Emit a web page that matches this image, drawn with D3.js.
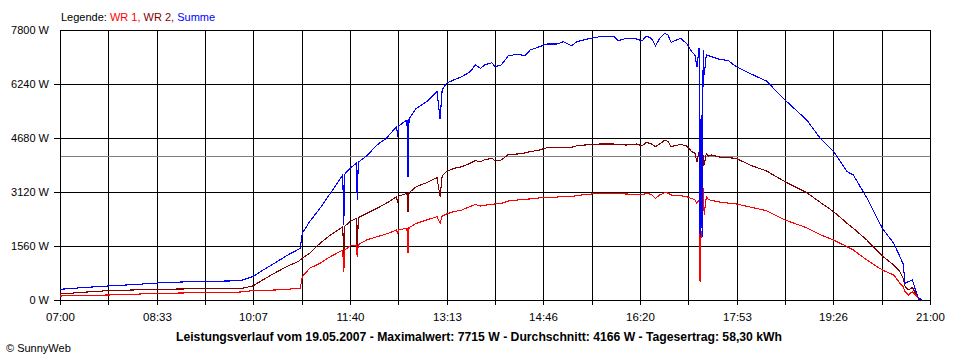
<!DOCTYPE html>
<html>
<head>
<meta charset="utf-8">
<script src="https://cdn.jsdelivr.net/npm/d3@7/dist/d3.min.js"></script>
<style>
  html, body { margin: 0; padding: 0; background: #fff; }
  svg { display: block; font-family: "Liberation Sans", Arial, sans-serif; }
</style>
</head>
<body>
<svg id="chart" width="960" height="360"></svg>
<script>
// ---- Data ----
const times = ["07:00","07:23","07:46","08:10","08:34","08:57","09:20","09:43","09:54","10:06",
  "10:18","10:28","10:40","10:50","10:52","10:54","11:01","11:11","11:21","11:33",
  "11:34","11:35","11:40","11:46","11:47","11:48","11:56","12:06","12:15","12:25",
  "12:26","12:27","12:35","12:36","12:37","12:44","12:54","13:04","13:07","13:09",
  "13:13","13:20","13:28","13:36","13:41","13:46","13:50","13:57","14:00","14:06",
  "14:13","14:22","14:29","14:34","14:43","14:50","15:00","15:06","15:14","15:19",
  "15:28","15:41","15:55","15:59","16:07","16:17","16:22","16:26","16:31","16:35",
  "16:39","16:44","16:47","16:50","16:59","17:05","17:10","17:13","17:15","17:17",
  "17:18","17:19","17:20","17:21","17:22","17:24","17:26","17:29","17:37","17:45",
  "17:53","18:06","18:22","18:40","19:01","19:14","19:27","19:40","19:46","19:59",
  "20:14","20:25","20:31","20:34","20:36","20:39","20:43","20:46","20:49","20:52"];

const wr1 = [116,130,144,164,193,202,212,220,231,269,
  280,289,309,338,338,673,916,1060,1251,1444,
  818,1450,1560,1590,1250,1600,1733,1829,1906,2022,
  1906,2030,2070,1348,2090,2215,2311,2407,2215,2430,
  2480,2550,2600,2700,2760,2716,2740,2760,2775,2790,
  2860,2890,2909,2920,2950,2957,2975,2985,2990,3014,
  3050,3081,3081,3070,3062,3050,3033,3081,3050,2937,
  3033,3100,3090,3033,3014,2985,2930,2889,2793,2890,
  530,2000,1900,3227,2455,2985,2900,2880,2830,2800,
  2773,2687,2580,2311,2086,1890,1733,1540,1444,1156,
  867,722,482,385,241,144,241,144,48,0];

const wr2 = [173,225,269,289,309,318,327,327,327,404,
  620,790,982,1112,1156,1213,1349,1638,1878,2118,
  1300,2130,2263,2360,1300,2380,2503,2648,2793,2985,
  2793,3000,3081,2551,3100,3274,3390,3534,2985,3580,
  3707,3800,3852,3950,4024,3996,4050,4093,4024,4044,
  4208,4218,4250,4285,4333,4400,4410,4410,4410,4458,
  4480,4506,4506,4490,4477,4506,4450,4555,4510,4430,
  4506,4622,4580,4430,4496,4450,4285,4240,3995,4285,
  1011,3000,2600,4200,3900,4237,4160,4190,4130,4110,
  4093,3900,3730,3418,3101,2822,2551,2215,2070,1733,
  1271,1011,818,626,385,289,366,193,29,0];

const summe = [309,360,404,443,491,520,540,549,558,674,
  900,1080,1300,1459,1502,1927,2262,2649,3082,3611,
  2170,3640,3804,3948,2890,3980,4160,4478,4670,5007,
  4718,5030,5200,3562,5230,5537,5729,6018,5219,6080,
  6259,6355,6451,6595,6789,6692,6789,6856,6740,6789,
  7059,7097,7059,7222,7318,7395,7395,7463,7347,7463,
  7530,7608,7608,7491,7560,7540,7482,7627,7560,7347,
  7560,7704,7656,7444,7560,7415,7173,7078,6740,7270,
  1820,5350,1820,7222,6500,7078,7059,7029,6950,6920,
  6740,6548,6326,5778,5200,4671,4285,3707,3611,2950,
  2070,1637,1251,1050,482,530,578,289,48,15];

const yTicks = [0, 1560, 3120, 4680, 6240, 7800];
const yTickLabels = ["0 W", "1560 W", "3120 W", "4680 W", "6240 W", "7800 W"];
const xTickLabels = ["07:00","08:33","10:07","11:40","13:13","14:46","16:20","17:53","19:26","21:00"];
const average = 4166;
const seriesNames = ["WR 1", "WR 2", "Summe"];
const titleText = "Leistungsverlauf vom 19.05.2007 - Maximalwert: 7715 W - Durchschnitt: 4166 W - Tagesertrag: 58,30 kWh";

// ---- Layout ----
const L = 60, R = 930, T = 30, B = 300;
const colors = { "WR 1": "#ff0000", "WR 2": "#800000", "Summe": "#0000ff" };

const parse = d3.timeParse("%H:%M");
const t0 = parse("07:00"), t1 = parse("21:00");
const x = d3.scaleTime().domain([t0, t1]).range([L, R]);
const y = d3.scaleLinear().domain([0, 7800]).range([B, T]);

const svg = d3.select("#chart");
svg.append("rect").attr("width", 960).attr("height", 360).attr("fill", "#fff");

// vertical grid (18 divisions, labels every 2)
const nDiv = 18;
const gridTimes = d3.range(nDiv + 1).map(i => new Date(t0.getTime() + i * (t1 - t0) / nDiv));
const grid = svg.append("g").attr("shape-rendering", "crispEdges");
grid.selectAll("line.v").data(gridTimes).join("line")
  .attr("x1", d => Math.round(x(d)) + 0.5).attr("x2", d => Math.round(x(d)) + 0.5)
  .attr("y1", T).attr("y2", B + 5)
  .attr("stroke", "#000").attr("stroke-width", 1);

// horizontal grid
grid.selectAll("line.h").data(yTicks).join("line")
  .attr("x1", (d, i) => i === yTicks.length - 1 ? L : L - 6).attr("x2", R + 1)
  .attr("y1", d => Math.round(y(d)) + 0.5).attr("y2", d => Math.round(y(d)) + 0.5)
  .attr("stroke", "#000").attr("stroke-width", 1);

// average line
grid.append("line")
  .attr("x1", L + 1).attr("x2", R)
  .attr("y1", Math.round(y(average)) + 0.5).attr("y2", Math.round(y(average)) + 0.5)
  .attr("stroke", "#808080").attr("stroke-width", 1);

// y labels
svg.append("g").selectAll("text").data(yTicks).join("text")
  .attr("x", 49).attr("y", d => Math.round(y(d)) + 4)
  .attr("text-anchor", "end").attr("font-size", 11).attr("fill", "#000")
  .text((d, i) => yTickLabels[i]);

// x labels
svg.append("g").selectAll("text").data(xTickLabels).join("text")
  .attr("x", (d, i) => Math.round(x(gridTimes[i * 2])) + 0.5)
  .attr("y", 321)
  .attr("text-anchor", "middle").attr("font-size", 11.5).attr("fill", "#000")
  .text(d => d);

// series
const rows = times.map((t, i) => ({ t: parse(t), wr1: wr1[i], wr2: wr2[i], summe: summe[i] }));
const line = key => d3.line().x(d => x(d.t)).y(d => y(d[key]));
const order = [["wr2", "WR 2"], ["wr1", "WR 1"], ["summe", "Summe"]];
order.forEach(([key, name]) => {
  svg.append("path").datum(rows)
    .attr("d", line(key))
    .attr("fill", "none")
    .attr("stroke", colors[name])
    .attr("stroke-width", 1.1)
    .attr("shape-rendering", "crispEdges");
});

// legend
const leg = svg.append("text").attr("x", 61).attr("y", 21).attr("font-size", 11);
leg.append("tspan").attr("fill", "#000").text("Legende: ");
leg.append("tspan").attr("fill", colors["WR 1"]).text(seriesNames[0] + ", ");
leg.append("tspan").attr("fill", colors["WR 2"]).text(seriesNames[1] + ", ");
leg.append("tspan").attr("fill", colors["Summe"]).text(seriesNames[2]);

// title
svg.append("text").attr("x", 479).attr("y", 341)
  .attr("text-anchor", "middle").attr("font-size", 12.2).attr("font-weight", "bold")
  .attr("fill", "#000").text(titleText);

// copyright
svg.append("text").attr("x", 6).attr("y", 352).attr("font-size", 11)
  .attr("fill", "#000").text("\u00A9 SunnyWeb");
</script>
</body>
</html>
